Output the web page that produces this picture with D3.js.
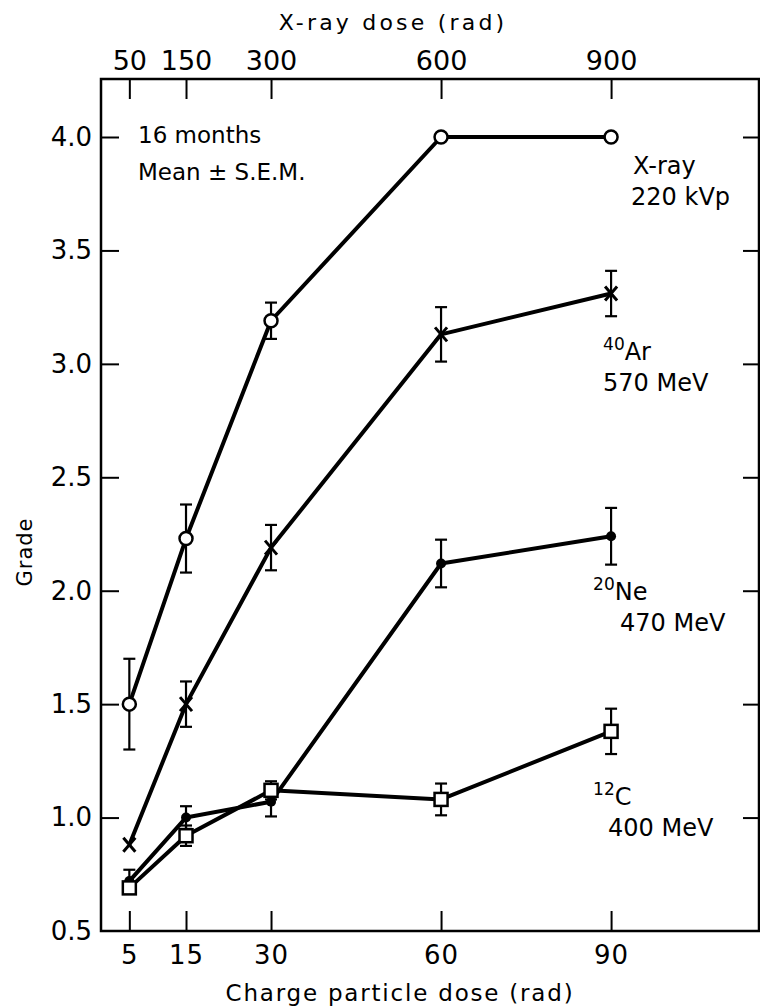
<!DOCTYPE html>
<html>
<head>
<meta charset="utf-8">
<script src="https://cdn.jsdelivr.net/npm/d3@7"></script>
<style>
  body { margin: 0; background: #fff; }
  svg { display: block; font-family: "DejaVu Sans", sans-serif; }
  text { fill: #000; }
</style>
</head>
<body>
<svg id="svg" width="760" height="1007"></svg>
<script>
// charged particle dose (rad) and the matching x-ray dose on the top axis
var doses = [5, 15, 30, 60, 90];
var xrayDoses = [50, 150, 300, 600, 900];
var gradeTicks = [0.5, 1.0, 1.5, 2.0, 2.5, 3.0, 3.5, 4.0];

// grade, mean and S.E.M. at each dose
var xrayMean = [1.50, 2.23, 3.19, 4.00, 4.00];
var xraySem  = [0.20, 0.15, 0.08, 0, 0];
var arMean   = [0.88, 1.50, 2.19, 3.13, 3.31];
var arSem    = [0, 0.10, 0.10, 0.12, 0.10];
var neMean   = [0.72, 1.00, 1.07, 2.12, 2.24];
var neSem    = [0.05, 0.05, 0.065, 0.105, 0.125];
var cMean    = [0.69, 0.92, 1.12, 1.08, 1.38];
var cSem     = [0, 0.045, 0.04, 0.07, 0.10];

var pLeft = 101, pRight = 759, pTop = 79, pBottom = 931;

function init(){
    var svg = d3.select("#svg");
    var x = d3.scaleLinear().domain([0, 116.1]).range([pLeft, pRight]);
    var y = d3.scaleLinear().domain([0.5, 4.0]).range([pBottom, 137]);

    // frame
    svg.append("rect").attr("x", pLeft).attr("y", pTop)
      .attr("width", pRight - pLeft).attr("height", pBottom - pTop)
      .style("fill", "none").style("stroke", "#000").style("stroke-width", 2.5);

    // bottom axis, ticks inward
    var bx = svg.append("g").attr("transform", "translate(0," + pBottom + ")")
      .call(d3.axisBottom(x).tickValues(doses).tickSize(-20).tickPadding(15)
        .tickFormat(d3.format("d")));
    // top axis, ticks inward, x-ray dose labels
    var tx = svg.append("g").attr("transform", "translate(0," + pTop + ")")
      .call(d3.axisTop(x).tickValues(doses).tickSize(-20).tickPadding(9)
        .tickFormat(function(d, i){ return xrayDoses[i]; }));
    // left axis
    var ly = svg.append("g").attr("transform", "translate(" + pLeft + ",0)")
      .call(d3.axisLeft(y).tickValues(gradeTicks).tickSize(-18).tickPadding(9)
        .tickFormat(d3.format(".1f")));
    // right axis, ticks only
    var ry = svg.append("g").attr("transform", "translate(" + pRight + ",0)")
      .call(d3.axisRight(y).tickValues(gradeTicks).tickSize(-16).tickFormat(""));

    [bx, tx, ly, ry].forEach(function(g){
        g.select(".domain").remove();
        g.selectAll("line").style("stroke", "#000").style("stroke-width", 2);
        g.selectAll("text").style("fill", "#000").style("font-family", "'DejaVu Sans', sans-serif");
    });
    bx.selectAll("text").style("font-size", "26px").style("letter-spacing", "1px");
    tx.selectAll("text").style("font-size", "27px");
    ly.selectAll("text").style("font-size", "26px");
    ly.select(".tick:first-of-type line").remove();
    ry.select(".tick:first-of-type line").remove();

    // axis titles
    svg.append("text").text("X-ray dose (rad)")
      .attr("x", 393).attr("y", 30).attr("text-anchor", "middle")
      .style("font-size", "22px").style("letter-spacing", "3.2px");
    svg.append("text").text("Charge particle dose (rad)")
      .attr("x", 400).attr("y", 1001).attr("text-anchor", "middle")
      .style("font-size", "23px").style("letter-spacing", "1.8px");
    svg.append("text").text("Grade")
      .attr("transform", "translate(32,552) rotate(-90)")
      .attr("text-anchor", "middle").style("font-size", "21px").style("letter-spacing", "1px");

    // note
    svg.append("text").text("16 months").attr("x", 138).attr("y", 143).style("font-size", "23px");
    svg.append("text").text("Mean \u00b1 S.E.M.").attr("x", 138).attr("y", 180).style("font-size", "23px");

    var series = [
        {mean: xrayMean, sem: xraySem, mark: "circle"},
        {mean: arMean, sem: arSem, mark: "cross"},
        {mean: neMean, sem: neSem, mark: "dot"},
        {mean: cMean, sem: cSem, mark: "square"}
    ];

    var line = d3.line().x(function(d){ return x(d.dose); }).y(function(d){ return y(d.mean); });

    series.forEach(function(s){
        var pts = doses.map(function(d, i){ return {dose: d, mean: s.mean[i], sem: s.sem[i]}; });
        var g = svg.append("g");

        g.append("path").datum(pts).attr("d", line)
          .style("fill", "none").style("stroke", "#000").style("stroke-width", 4)
          .style("stroke-linejoin", "round");

        var eb = g.selectAll("g.err").data(pts.filter(function(p){ return p.sem > 0; }))
          .enter().append("g").attr("class", "err")
          .style("stroke", "#000").style("stroke-width", 2.2);
        eb.append("line")
          .attr("x1", function(d){ return x(d.dose); }).attr("x2", function(d){ return x(d.dose); })
          .attr("y1", function(d){ return y(d.mean - d.sem); }).attr("y2", function(d){ return y(d.mean + d.sem); });
        eb.append("line")
          .attr("x1", function(d){ return x(d.dose) - 6; }).attr("x2", function(d){ return x(d.dose) + 6; })
          .attr("y1", function(d){ return y(d.mean + d.sem); }).attr("y2", function(d){ return y(d.mean + d.sem); });
        eb.append("line")
          .attr("x1", function(d){ return x(d.dose) - 6; }).attr("x2", function(d){ return x(d.dose) + 6; })
          .attr("y1", function(d){ return y(d.mean - d.sem); }).attr("y2", function(d){ return y(d.mean - d.sem); });

        var m = g.selectAll("g.mark").data(pts).enter().append("g").attr("class", "mark")
          .attr("transform", function(d){ return "translate(" + x(d.dose) + "," + y(d.mean) + ")"; });
        if(s.mark == "circle"){
            m.append("circle").attr("r", 6.5)
              .style("fill", "#fff").style("stroke", "#000").style("stroke-width", 2.5);
        }else if(s.mark == "square"){
            m.append("rect").attr("x", -6.5).attr("y", -6.5).attr("width", 13).attr("height", 13)
              .style("fill", "#fff").style("stroke", "#000").style("stroke-width", 2.5);
        }else if(s.mark == "dot"){
            m.append("circle").attr("r", 5).style("fill", "#000");
        }else{
            m.append("path").attr("d", "M-6,-7L6,7M6,-7L-6,7")
              .style("stroke", "#000").style("stroke-width", 3).style("fill", "none");
        }
    });

    // series labels
    function label(lx, ly, sup, main, energy, ex){
        var t = svg.append("text").attr("x", lx).attr("y", ly).style("font-size", "24px");
        if(sup){
            t.append("tspan").text(sup).attr("dy", -10).style("font-size", "17px");
            t.append("tspan").text(main).attr("dy", 10);
        }else{
            t.text(main);
        }
        svg.append("text").text(energy).attr("x", ex).attr("y", ly + 31)
          .style("font-size", "24px");
    }
    label(x(90) + 22, 174, null, "X-ray", "220 kVp", x(90) + 20);
    label(x(90) - 8, 360, "40", "Ar", "570 MeV", x(90) - 8);
    label(x(90) - 18, 600, "20", "Ne", "470 MeV", x(90) + 9);
    label(x(90) - 18, 805, "12", "C", "400 MeV", x(90) - 3);
}

init();
</script>
</body>
</html>
